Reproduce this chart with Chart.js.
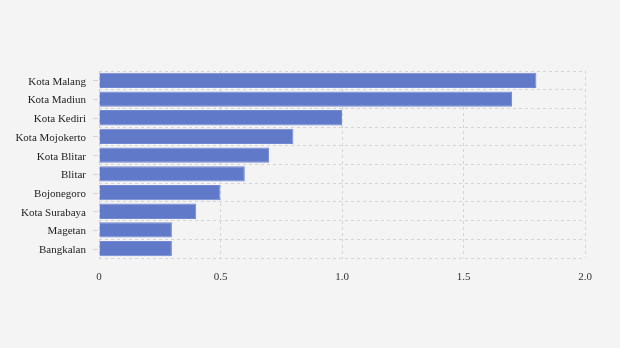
<!DOCTYPE html>
<html>
<head>
<meta charset="utf-8">
<script src="https://cdn.jsdelivr.net/npm/chart.js@4.4.1/dist/chart.umd.min.js"></script>
<style>
  html, body { margin: 0; padding: 0; background: #f4f4f4; }
  #wrap { width: 620px; height: 348px; }
</style>
</head>
<body>
<div id="wrap"><canvas id="myChart"></canvas></div>
<script>
const cities = ['Kota Malang', 'Kota Madiun', 'Kota Kediri', 'Kota Mojokerto', 'Kota Blitar',
                'Blitar', 'Bojonegoro', 'Kota Surabaya', 'Magetan', 'Bangkalan'];
const values = [1.8, 1.7, 1.0, 0.8, 0.7, 0.6, 0.5, 0.4, 0.3, 0.3];
const xTicks = [0, 0.5, 1.0, 1.5, 2.0];

const gridColor = '#d4d4d4';
const fontFamily = '"Liberation Serif", "Times New Roman", serif';

// short marks next to each category label
const tickMarks = {
    id: 'tickMarks',
    afterDraw(chart) {
        const y = chart.scales.y;
        const ctx = chart.ctx;
        ctx.save();
        ctx.strokeStyle = gridColor;
        ctx.lineWidth = 1;
        cities.forEach((c, i) => {
            const py = Math.round(y.getPixelForValue(i)) + 0.5;
            ctx.beginPath();
            ctx.moveTo(y.right - 6, py);
            ctx.lineTo(y.right - 1, py);
            ctx.stroke();
        });
        ctx.restore();
    }
};

const ctx = document.getElementById('myChart').getContext('2d');
const myChart = new Chart(ctx, {
    type: 'bar',
    data: {
        labels: cities,
        datasets: [{
            data: values,
            backgroundColor: '#6079c9',
            borderColor: '#7388d0',
            borderWidth: 1,
            barPercentage: 0.82,
            categoryPercentage: 1
        }]
    },
    options: {
        indexAxis: 'y',
        responsive: true,
        maintainAspectRatio: false,
        animation: false,
        layout: { padding: { top: 71, right: 35, left: 0, bottom: 0 } },
        plugins: {
            legend: { display: false },
            tooltip: { enabled: false }
        },
        scales: {
            x: {
                type: 'linear',
                min: 0,
                max: 2,
                afterBuildTicks: (scale) => { scale.ticks = xTicks.map(v => ({ value: v })); },
                afterFit: (scale) => { scale.height = 90; },
                border: { display: false, dash: [3, 3] },
                grid: { color: gridColor, drawTicks: false },
                ticks: {
                    padding: 13,
                    color: '#333',
                    font: { family: fontFamily, size: 11 },
                    callback: (v) => v === 0 ? '0' : v.toFixed(1)
                }
            },
            y: {
                afterFit: (scale) => { scale.width = 99; },
                border: { display: false, dash: [3, 3] },
                grid: { color: gridColor, drawTicks: false, offset: true },
                ticks: {
                    padding: 13,
                    labelOffset: 1.5,
                    color: '#222',
                    font: { family: fontFamily, size: 11 }
                }
            }
        }
    },
    plugins: [tickMarks]
});
</script>
</body>
</html>
